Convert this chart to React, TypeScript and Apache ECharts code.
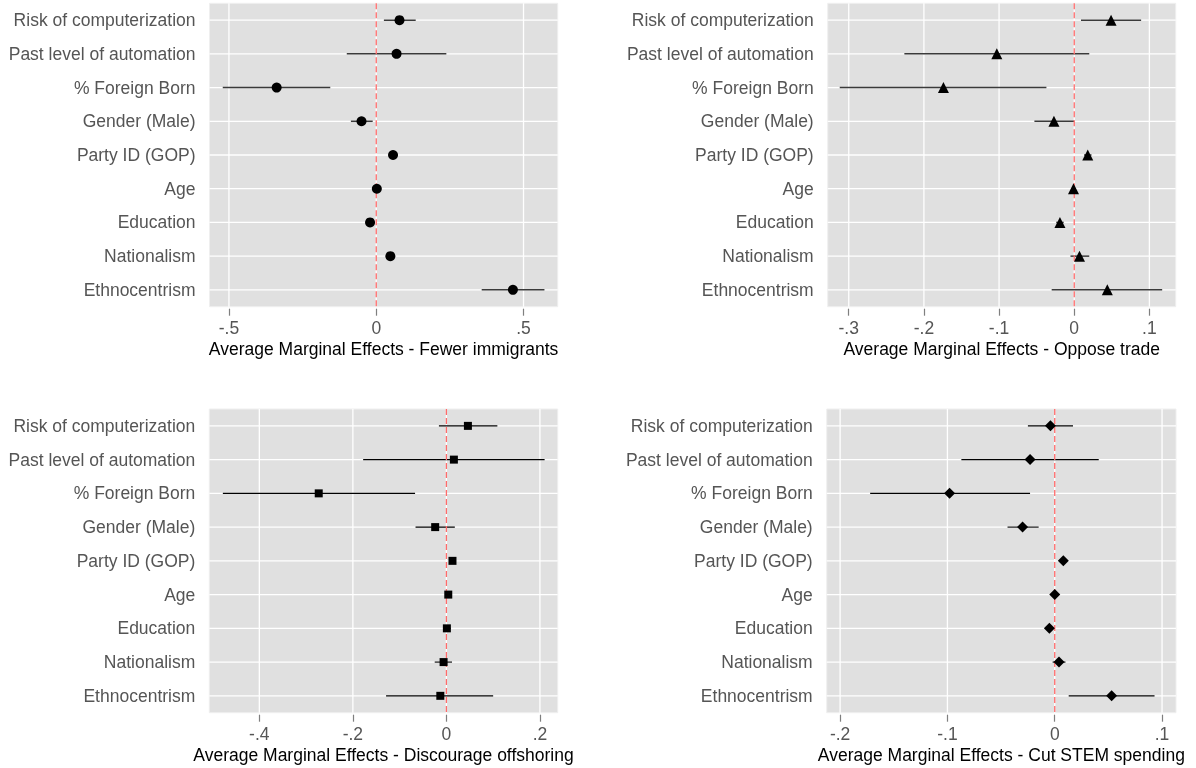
import React, { useEffect, useRef } from "react";
import * as echarts from "echarts";

const categories = [
  "Risk of computerization",
  "Past level of automation",
  "% Foreign Born",
  "Gender (Male)",
  "Party ID (GOP)",
  "Age",
  "Education",
  "Nationalism",
  "Ethnocentrism",
];

// Panel 1: Fewer immigrants
const est1 = [0.079, 0.069, -0.338, -0.05, 0.057, 0.002, -0.021, 0.048, 0.464];
const lo1 = [0.026, -0.1, -0.521, -0.086, 0.052, -0.003, -0.026, 0.043, 0.358];
const hi1 = [0.134, 0.238, -0.156, -0.012, 0.062, 0.007, -0.016, 0.053, 0.571];
const ticks1 = [-0.5, 0, 0.5];

// Panel 2: Oppose trade
const est2 = [0.049, -0.103, -0.174, -0.027, 0.018, -0.001, -0.019, 0.007, 0.044];
const lo2 = [0.009, -0.226, -0.312, -0.053, 0.013, -0.004, -0.024, -0.005, -0.03];
const hi2 = [0.089, 0.02, -0.037, 0.0, 0.023, 0.002, -0.014, 0.02, 0.117];
const ticks2 = [-0.3, -0.2, -0.1, 0, 0.1];

// Panel 3: Discourage offshoring
const est3 = [0.046, 0.016, -0.273, -0.024, 0.013, 0.004, 0.001, -0.006, -0.013];
const lo3 = [-0.016, -0.178, -0.478, -0.066, 0.006, -0.001, -0.007, -0.025, -0.129];
const hi3 = [0.109, 0.21, -0.067, 0.018, 0.02, 0.009, 0.009, 0.012, 0.1];
const ticks3 = [-0.4, -0.2, 0, 0.2];

// Panel 4: Cut STEM spending
const est4 = [-0.004, -0.023, -0.098, -0.03, 0.008, 0.0, -0.005, 0.004, 0.053];
const lo4 = [-0.025, -0.087, -0.172, -0.044, 0.005, -0.003, -0.008, -0.002, 0.013];
const hi4 = [0.017, 0.041, -0.023, -0.015, 0.011, 0.003, -0.002, 0.01, 0.093];
const ticks4 = [-0.2, -0.1, 0, 0.1];

const titles = [
  "Average Marginal Effects - Fewer immigrants",
  "Average Marginal Effects - Oppose trade",
  "Average Marginal Effects - Discourage offshoring",
  "Average Marginal Effects - Cut STEM spending",
];

const FONT = "'Liberation Sans', Arial, Helvetica, sans-serif";

const fmt = (v: number) => {
  if (v === 0) return "0";
  const s = String(Math.round(v * 1000) / 1000);
  return s.replace("0.", ".");
};

export default function App() {
  const ref = useRef<HTMLDivElement>(null);
  useEffect(() => {
    if (!ref.current) return;
    const chart = echarts.init(ref.current, null, { renderer: "svg" });

    const panels = [
      { est: est1, lo: lo1, hi: hi1, ticks: ticks1, min: -0.566, max: 0.616, symbol: "circle", size: 10, bar: "#3a3a3a", barW: 1.5,
        grid: { left: 209.5, top: 3.3, width: 348.2, height: 303.4 } },
      { est: est2, lo: lo2, hi: hi2, ticks: ticks2, min: -0.328, max: 0.135, symbol: "triangle", size: 11, bar: "#3a3a3a", barW: 1.5,
        grid: { left: 827.7, top: 3.3, width: 348, height: 303.4 } },
      { est: est3, lo: lo3, hi: hi3, ticks: ticks3, min: -0.507, max: 0.238, symbol: "rect", size: 8, bar: "#000000", barW: 1.1,
        grid: { left: 209.3, top: 409, width: 348.4, height: 303.7 } },
      { est: est4, lo: lo4, hi: hi4, ticks: ticks4, min: -0.2125, max: 0.113, symbol: "diamond", size: 11, bar: "#000000", barW: 1.1,
        grid: { left: 826.7, top: 409, width: 349.3, height: 303.7 } },
    ];

    const grid: any[] = [];
    const xAxis: any[] = [];
    const yAxis: any[] = [];
    const series: any[] = [];

    panels.forEach((p, i) => {
      grid.push({ ...p.grid, show: false, containLabel: false });
      xAxis.push({
        type: "value",
        gridIndex: i,
        min: p.min,
        max: p.max,
        offset: 2,
        axisLine: { show: false },
        axisTick: { show: true, length: 7, customValues: p.ticks, lineStyle: { color: "#7f7f7f", width: 1.2 } },
        axisLabel: {
          show: true,
          customValues: p.ticks,
          formatter: (v: number) => fmt(v),
          color: "#555555",
          fontSize: 17.5,
          fontFamily: FONT,
          margin: 10.5,
        },
        splitLine: { show: false },
        name: titles[i],
        nameLocation: "middle",
        nameGap: 31,
        nameTextStyle: { color: "#000", fontSize: 17.5, fontFamily: FONT },
      });
      yAxis.push({
        type: "category",
        gridIndex: i,
        data: categories,
        inverse: true,
        boundaryGap: true,
        offset: 2,
        axisLine: { show: false },
        axisTick: { show: true, alignWithLabel: true, length: 7, lineStyle: { color: "#7f7f7f", width: 1.2 } },
        axisLabel: { color: "#555555", fontSize: 17.5, fontFamily: FONT, margin: 12 },
        splitLine: { show: false },
      });

      const last = categories.length - 1;
      // panel background, grid lines, zero line and error bars, drawn in order within one series
      series.push({
        type: "custom",
        xAxisIndex: i,
        yAxisIndex: i,
        z: 2,
        silent: true,
        data: categories.map((_, k) => [p.lo[k], p.hi[k], k]),
        encode: { x: [0, 1], y: 2 },
        renderItem: (params: any, api: any) => {
          const cs = params.coordSys;
          const k = api.value(2);
          const y = api.coord([0, k])[1];
          const children: any[] = [];
          if (params.dataIndex === 0) {
            children.push({
              type: "rect",
              shape: { x: cs.x, y: cs.y, width: cs.width, height: cs.height },
              style: { fill: "#e0e0e0", stroke: "#efefef", lineWidth: 1 },
            });
            p.ticks.forEach((t) => {
              const x = api.coord([t, k])[0];
              children.push({
                type: "line",
                shape: { x1: x, y1: cs.y, x2: x, y2: cs.y + cs.height },
                style: { stroke: "#ffffff", lineWidth: 1.3 },
              });
            });
          }
          children.push({
            type: "line",
            shape: { x1: cs.x, y1: y, x2: cs.x + cs.width, y2: y },
            style: { stroke: "#ffffff", lineWidth: 1.3 },
          });
          if (params.dataIndex === last) {
            const x0 = api.coord([0, k])[0];
            children.push({
              type: "line",
              shape: { x1: x0, y1: cs.y, x2: x0, y2: cs.y + cs.height },
              style: { stroke: "#ff6b6b", lineWidth: 1.3, lineDash: [6, 3] },
            });
          }
          const a = api.coord([api.value(0), k]);
          const b = api.coord([api.value(1), k]);
          children.push({
            type: "line",
            shape: { x1: a[0], y1: a[1], x2: b[0], y2: b[1] },
            style: { stroke: p.bar, lineWidth: p.barW },
          });
          return { type: "group", children };
        },
      });
      // point estimates
      series.push({
        type: "scatter",
        xAxisIndex: i,
        yAxisIndex: i,
        z: 4,
        symbol: p.symbol,
        symbolSize: p.size,
        itemStyle: { color: "#000000", opacity: 1 },
        clip: false,
        data: categories.map((c, k) => [p.est[k], k]),
      });
    });

    chart.setOption({
      animation: false,
      grid,
      xAxis,
      yAxis,
      series,
    });
    return () => chart.dispose();
  }, []);

  return (
    <div
      ref={ref}
      style={{ position: "fixed", left: 0, top: 0, width: 1196, height: 768 }}
    />
  );
}
